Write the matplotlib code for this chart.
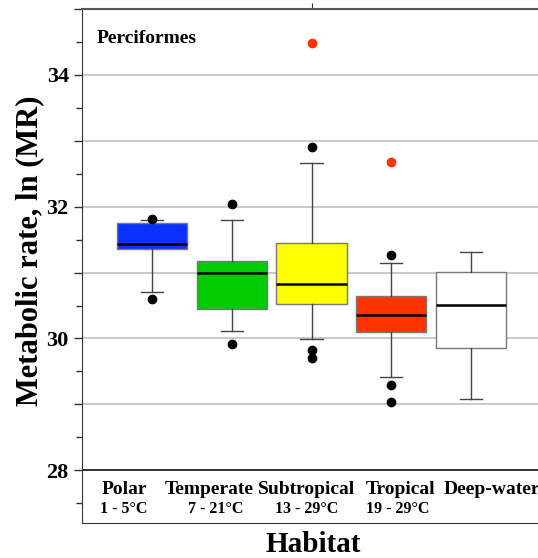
import matplotlib
matplotlib.use("Agg")
import matplotlib.pyplot as plt
from matplotlib.ticker import MultipleLocator, FuncFormatter

plt.rcParams["font.family"] = ["Liberation Serif", "DejaVu Serif"]
plt.rcParams["font.weight"] = "bold"

# Data
habitats = ["Polar", "Temperate", "Subtropical", "Tropical", "Deep-water"]
temps = ["1 - 5°C", "7 - 21°C", "13 - 29°C", "19 - 29°C", ""]
q1 = [31.36, 30.44, 30.52, 30.10, 29.85]
med = [31.44, 31.00, 30.82, 30.36, 30.51]
q3 = [31.75, 31.18, 31.45, 30.64, 31.01]
whislo = [30.71, 30.12, 29.99, 29.42, 29.08]
whishi = [31.80, 31.80, 32.66, 31.15, 31.31]
black_fliers = [[31.81, 30.60], [32.04, 29.91], [32.90, 29.83, 29.71],
                [31.27, 29.30, 29.04], []]
red_fliers = [[], [], [34.48], [32.68], []]
colors = ["#0a32ff", "#00cc00", "#ffff00", "#ff3300", "#ffffff"]

stats = []
for i, name in enumerate(habitats):
    stats.append(dict(label=name, q1=q1[i], med=med[i], q3=q3[i],
                      whislo=whislo[i], whishi=whishi[i],
                      fliers=black_fliers[i]))

fig = plt.figure(figsize=(5.38, 5.58), dpi=100)
ax = fig.add_axes([0.1524, 0.0627, 0.8476, 0.9212])

pos = list(range(1, len(habitats) + 1))
bp = ax.bxp(stats, positions=pos, widths=0.88, patch_artist=True,
            capwidths=0.28,
            boxprops=dict(edgecolor="#777777", linewidth=1),
            whiskerprops=dict(color="#444444", linewidth=1),
            capprops=dict(color="#444444", linewidth=1),
            medianprops=dict(color="black", linewidth=1.8),
            flierprops=dict(marker="o", markerfacecolor="black",
                            markeredgecolor="black", markersize=6),
            zorder=3)
for patch, c in zip(bp["boxes"], colors):
    patch.set_facecolor(c)

for i, vals in enumerate(red_fliers):
    ax.scatter([pos[i]] * len(vals), vals, s=36, color="#ff3300", zorder=4)

ax.set_xlim(0.122, 5.84)
ax.set_ylim(27.2, 35)

# y ticks: every 1 with gridlines, labels on even values, minor at halves
ax.yaxis.set_major_locator(MultipleLocator(1))
ax.yaxis.set_minor_locator(MultipleLocator(0.5))
ax.yaxis.set_major_formatter(FuncFormatter(
    lambda v, p: f"{v:.0f}" if round(v) % 2 == 0 else ""))
ax.tick_params(axis="y", which="major", length=6, width=1, labelsize=16,
               color="#333333")
ax.tick_params(axis="y", which="minor", length=4, width=1, color="#333333")
for v in range(29, 35):
    ax.axhline(v, color="#bbbbbb", linewidth=1.1, zorder=1)
ax.axhline(28, color="#222222", linewidth=1.3, zorder=2)

ax.set_xticks([3])
ax.tick_params(axis="x", bottom=False, top=True, labelbottom=False,
               direction="out", length=4, color="#333333")

ax.spines["right"].set_visible(False)
ax.spines["top"].set_color("#555555")
ax.spines["left"].set_color("#333333")
ax.spines["bottom"].set_color("#333333")
ax.spines["top"].set_linewidth(1.5)

# category labels inside the axes, below the 28 line
label_x = [0.655, 1.715, 2.94, 4.12, 5.26]
temp_x = [0.65, 1.80, 2.94, 4.08, 5.26]
for i in range(len(habitats)):
    ax.text(label_x[i], 27.71, habitats[i], ha="center", va="center",
            fontsize=14, fontweight="bold")
    if temps[i]:
        ax.text(temp_x[i], 27.42, temps[i], ha="center", va="center",
                fontsize=11.5, fontweight="bold")

ax.text(0.3, 34.55, "Perciformes", ha="left", va="center", fontsize=14,
        fontweight="bold")

fig.text(0.056, 0.55, "Metabolic rate, ln (MR)", rotation=90, ha="center",
         va="center", fontsize=22, fontweight="bold")
fig.text(0.582, 0.025, "Habitat", ha="center", va="center", fontsize=21,
         fontweight="bold")

fig.savefig("out.png", dpi=100)
